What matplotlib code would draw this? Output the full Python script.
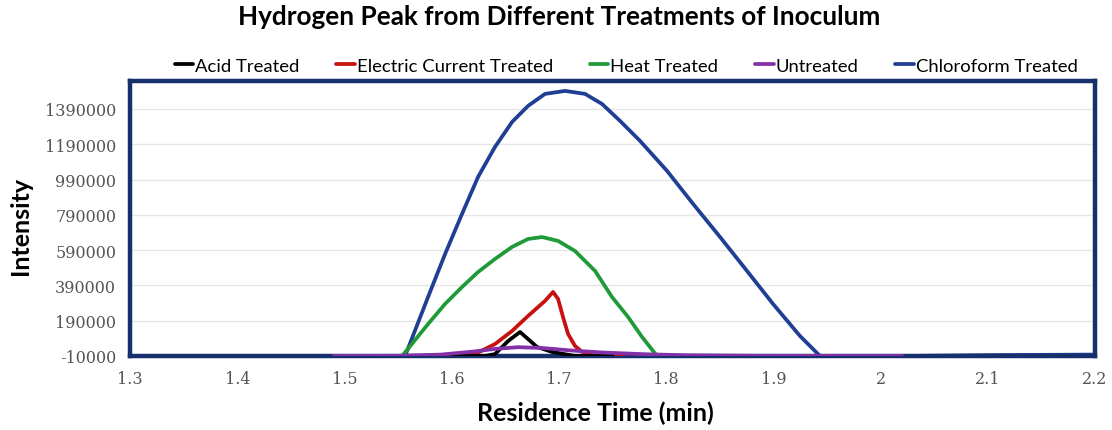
import numpy as np
import matplotlib
matplotlib.use('Agg')
import matplotlib.pyplot as plt

# values
acid_t = [1.60, 1.631, 1.6404, 1.6526, 1.6637, 1.6712, 1.6796, 1.6936, 1.715, 1.75]
acid_i = [-10000, -10000, 1000, 75000, 126000, 86000, 41000, 13000, -10000, -10000]

electric_t = [1.58, 1.6078, 1.6218, 1.6404, 1.6563, 1.6712, 1.687, 1.6945, 1.6992,
              1.7038, 1.7085, 1.715, 1.7216, 1.7337, 1.76]
electric_i = [-10000, -10000, 1000, 58000, 132000, 217000, 302000, 353000, 313000,
              211000, 115000, 47000, 13000, -10000, -10000]

heat_t = [1.50, 1.5537, 1.5779, 1.5938, 1.6096, 1.6246, 1.6404, 1.6563, 1.6712, 1.6843,
          1.6992, 1.715, 1.7337, 1.7495, 1.7645, 1.7775, 1.7915, 1.82]
heat_i = [-10000, -10000, 171000, 285000, 381000, 466000, 540000, 608000, 653000, 664000,
          642000, 585000, 472000, 324000, 211000, 98000, -10000, -10000]

untreated_t = [1.49, 1.55, 1.59, 1.62, 1.64, 1.662, 1.685, 1.71, 1.74, 1.78, 1.82, 1.88, 2.02]
untreated_i = [-10000, -9000, -2000, 15000, 30000, 40000, 35000, 22000, 10000, 0, -6000, -9000, -10000]

chloro_t = [1.30, 1.5565, 1.5779, 1.5938, 1.6096, 1.6246, 1.6404, 1.6563, 1.6712, 1.687,
            1.7057, 1.7244, 1.7402, 1.757, 1.7756, 1.8008, 1.8251, 1.8503, 1.8754, 1.8997,
            1.9249, 1.9435, 2.02, 2.10, 2.20]
chloro_i = [-10000, -10000, 324000, 568000, 795000, 1005000, 1175000, 1316000, 1407000, 1475000,
            1492000, 1475000, 1418000, 1322000, 1209000, 1039000, 852000, 664000, 472000, 285000,
            103000, -10000, -10000, -5000, -2000]

yticks = np.arange(-10000, 1390001, 200000)
xticks = [1.3, 1.4, 1.5, 1.6, 1.7, 1.8, 1.9, 2.0, 2.1, 2.2]
xtick_labels = ['1.3', '1.4', '1.5', '1.6', '1.7', '1.8', '1.9', '2', '2.1', '2.2']

fig = plt.figure(figsize=(11.12, 4.31), dpi=100)
ax = fig.add_axes([0.117, 0.1717, 0.8677, 0.638])

lw = 2.7
style = dict(lw=lw, solid_joinstyle='round', solid_capstyle='round')
ax.plot(chloro_t, chloro_i, color='#1F3E94', label='Chloroform Treated', zorder=2, **style)
ax.plot(heat_t, heat_i, color='#1F9A38', label='Heat Treated', zorder=3, **style)
ax.plot(electric_t, electric_i, color='#C81010', label='Electric Current Treated', zorder=4, **style)
ax.plot(acid_t, acid_i, color='#000000', label='Acid Treated', zorder=5, **style)
ax.plot(untreated_t, untreated_i, color='#8430A8', label='Untreated', zorder=6, **style)

ax.set_xlim(1.3, 2.2)
ax.set_ylim(-10000, 1548000)
ax.set_xticks(xticks)
ax.set_xticklabels(xtick_labels)
ax.set_yticks(yticks)
ax.set_yticklabels([str(v) for v in yticks])
ax.tick_params(length=0, labelsize=11.5, colors='#555555')
ax.tick_params(axis='y', pad=10)
ax.tick_params(axis='x', pad=10)
for lab in ax.get_xticklabels() + ax.get_yticklabels():
    lab.set_family('DejaVu Serif')
ax.grid(axis='y', color='#E6E6E6', lw=1)
ax.set_axisbelow(True)
for s in ax.spines.values():
    s.set_color('#16306E')
    s.set_linewidth(3.2)

fig.text(0.503, 0.96, 'Hydrogen Peak from Different Treatments of Inoculum',
         ha='center', va='center', fontsize=18.8, fontweight='bold', family='Lato')
fig.text(0.535, 0.042, 'Residence Time (min)', ha='center', va='center',
         fontsize=18, fontweight='bold', family='Lato')
fig.text(0.018, 0.476, 'Intensity', ha='center', va='center', rotation=90,
         fontsize=18, fontweight='bold', family='Lato')

handles, labels = ax.get_legend_handles_labels()
order = [3, 2, 1, 4, 0]
fig.legend([handles[i] for i in order], [labels[i] for i in order],
           loc='center', bbox_to_anchor=(0.563, 0.845), ncol=5, frameon=False,
           handlelength=1.0, handletextpad=0.1, columnspacing=2.0,
           prop={'family': 'Lato', 'size': 13.3})

fig.savefig('out.png', dpi=100)
